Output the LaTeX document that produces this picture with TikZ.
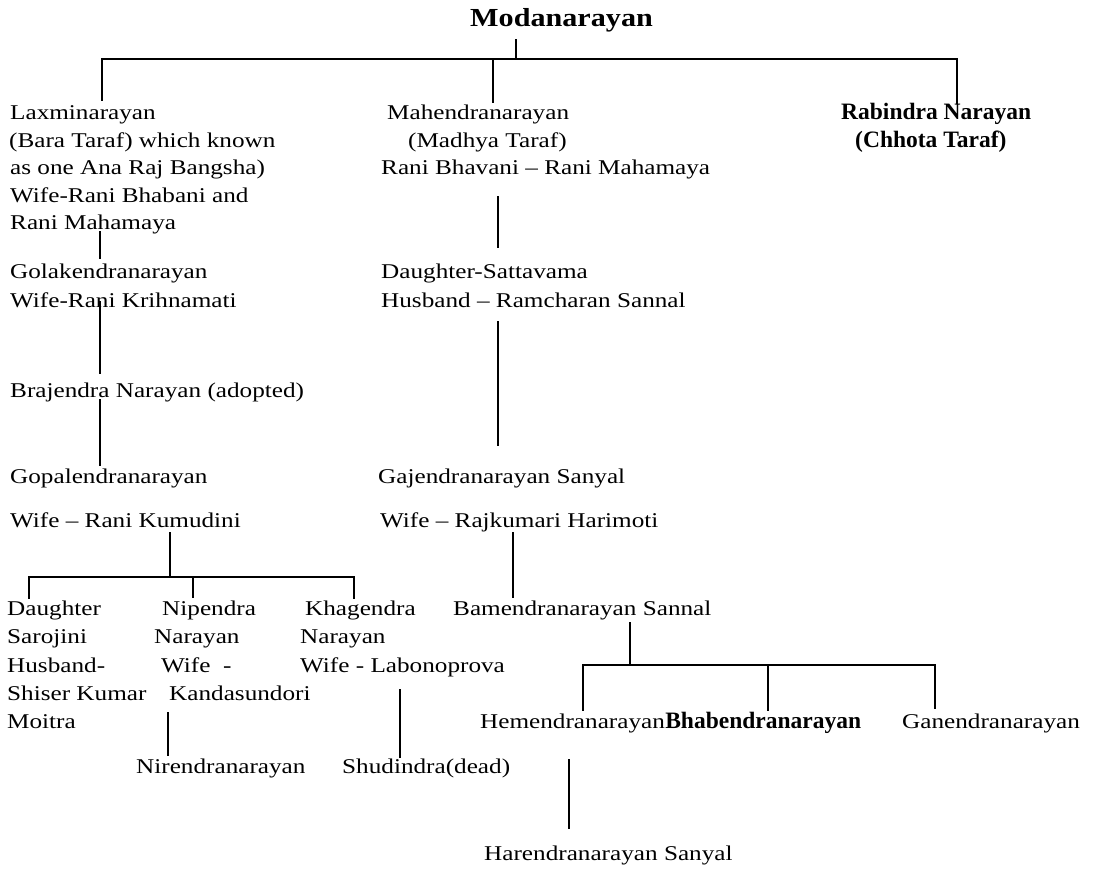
\documentclass[tikz,border=0pt]{standalone}
\usepackage{fontspec}
\setmainfont{Liberation Serif}[FakeStretch=1.2]
\newfontfamily\boldfam{Liberation Serif}
\newfontfamily\titlefam{Liberation Serif}[FakeStretch=1.16]
\begin{document}
\begin{tikzpicture}[x=1pt,y=-1pt,
  person/.style={anchor=base west, inner sep=0pt, font=\fontsize{21}{28}\selectfont},
  strong/.style={anchor=base west, inner sep=0pt, font=\boldfam\bfseries\fontsize{23.5}{28}\selectfont},
  head/.style={anchor=base west, inner sep=0pt, font=\titlefam\bfseries\fontsize{26}{30}\selectfont},
  link/.style={line width=1.8pt, line cap=rect}]
\fill[white] (0,0) rectangle (1098,869);
\useasboundingbox (0,0) rectangle (1098,869);

% ---- root ----
\node[head] (modan) at (470,27) {Modanarayan};

% ---- first generation ----
\node[person] (lax1) at (10,120) {Laxminarayan};
\node[person] (lax2) at (9,148) {(Bara Taraf) which known};
\node[person] (lax3) at (10,175) {as one Ana Raj Bangsha)};
\node[person] (lax4) at (10,203) {Wife-Rani Bhabani and};
\node[person] (lax5) at (10,230) {Rani Mahamaya};

\node[person] (mah1) at (387,120) {Mahendranarayan};
\node[person] (mah2) at (408,148) {(Madhya Taraf)};
\node[person] (mah3) at (381,175) {Rani Bhavani -- Rani Mahamaya};

\node[strong] (rab1) at (841,120) {Rabindra Narayan};
\node[strong] (rab2) at (855,148) {(Chhota Taraf)};

% ---- left line (Bara Taraf) ----
\node[person] (gol1) at (10,278) {Golakendranarayan};
\node[person] (gol2) at (10,307) {Wife-Rani Krihnamati};
\node[person] (bra) at (10,397) {Brajendra Narayan (adopted)};
\node[person] (gop1) at (10,483) {Gopalendranarayan};
\node[person] (gop2) at (10,527) {Wife -- Rani Kumudini};

\node[person] (dau1) at (7,615) {Daughter};
\node[person] (dau2) at (7,643) {Sarojini};
\node[person] (dau3) at (7,672) {Husband-};
\node[person] (dau4) at (7,700) {Shiser Kumar};
\node[person] (dau5) at (7,728) {Moitra};

\node[person] (nip1) at (162,615) {Nipendra};
\node[person] (nip2) at (154,643) {Narayan};
\node[person] (nip3) at (161,672) {Wife\ \ -};
\node[person] (nip4) at (169,700) {Kandasundori};

\node[person] (kha1) at (305,615) {Khagendra};
\node[person] (kha2) at (300,643) {Narayan};
\node[person] (kha3) at (300,672) {Wife - Labonoprova};

\node[person] (nir) at (136,773) {Nirendranarayan};
\node[person] (shu) at (342,773) {Shudindra(dead)};

% ---- middle line (Madhya Taraf) ----
\node[person] (sat1) at (381,278) {Daughter-Sattavama};
\node[person] (sat2) at (381,307) {Husband -- Ramcharan Sannal};
\node[person] (gaj1) at (378,483) {Gajendranarayan Sanyal};
\node[person] (gaj2) at (380,527) {Wife -- Rajkumari Harimoti};
\node[person] (bam) at (453,615) {Bamendranarayan Sannal};

\node[person] (hem) at (480,728) {Hemendranarayan};
\node[strong] (bha) at (hem.base east) {Bhabendranarayan};
\node[person] (gan) at (902,728) {Ganendranarayan};
\node[person] (har) at (484,860) {Harendranarayan Sanyal};

% ---- junction points ----
\coordinate (rootstem) at (516,40);
\coordinate (rootbar) at (516,59);
\coordinate (barL) at (102,59);
\coordinate (barM) at (493,59);
\coordinate (barR) at (957,59);
\coordinate (laxtop) at (102,100);
\coordinate (mahtop) at (493,102);
\coordinate (rabtop) at (957,103);

\coordinate (laxfoot) at (100,232);
\coordinate (goltop) at (100,258);
\coordinate (golfoot) at (100,302);
\coordinate (bratop) at (100,373);
\coordinate (brafoot) at (100,400);
\coordinate (goptop) at (100,465);
\coordinate (gopfoot) at (170,533);
\coordinate (gopbar) at (170,577);
\coordinate (kidbarL) at (29,577);
\coordinate (kidbarM) at (193,577);
\coordinate (kidbarR) at (354,577);
\coordinate (dautop) at (29,598);
\coordinate (niptop) at (193,597);
\coordinate (khatop) at (354,598);
\coordinate (nipfoot) at (168,713);
\coordinate (nirtop) at (168,755);
\coordinate (khafoot) at (400,690);
\coordinate (shutop) at (400,757);

\coordinate (mahfoot) at (498,197);
\coordinate (sattop) at (498,247);
\coordinate (satfoot) at (498,322);
\coordinate (gajtop) at (498,445);
\coordinate (gajfoot) at (513,533);
\coordinate (bamtop) at (513,597);
\coordinate (bamfoot) at (630,623);
\coordinate (bambar) at (630,665);
\coordinate (sonbarL) at (583,665);
\coordinate (sonbarM) at (768,665);
\coordinate (sonbarR) at (935,665);
\coordinate (hemtop) at (583,710);
\coordinate (bhatop) at (768,710);
\coordinate (gantop) at (935,708);
\coordinate (hemfoot) at (569,760);
\coordinate (hartop) at (569,828);

% ---- connectors ----
\draw[link] (rootstem) -- (rootbar);
\draw[link] (barL) -- (barR);
\draw[link] (barL) -- (laxtop);
\draw[link] (barM) -- (mahtop);
\draw[link] (barR) -- (rabtop);

\draw[link] (laxfoot) -- (goltop);
\draw[link] (golfoot) -- (bratop);
\draw[link] (brafoot) -- (goptop);
\draw[link] (gopfoot) -- (gopbar);
\draw[link] (kidbarL) -- (kidbarR);
\draw[link] (kidbarL) -- (dautop);
\draw[link] (kidbarM) -- (niptop);
\draw[link] (kidbarR) -- (khatop);
\draw[link] (nipfoot) -- (nirtop);
\draw[link] (khafoot) -- (shutop);

\draw[link] (mahfoot) -- (sattop);
\draw[link] (satfoot) -- (gajtop);
\draw[link] (gajfoot) -- (bamtop);
\draw[link] (bamfoot) -- (bambar);
\draw[link] (sonbarL) -- (sonbarR);
\draw[link] (sonbarL) -- (hemtop);
\draw[link] (sonbarM) -- (bhatop);
\draw[link] (sonbarR) -- (gantop);
\draw[link] (hemfoot) -- (hartop);
\end{tikzpicture}
\end{document}
